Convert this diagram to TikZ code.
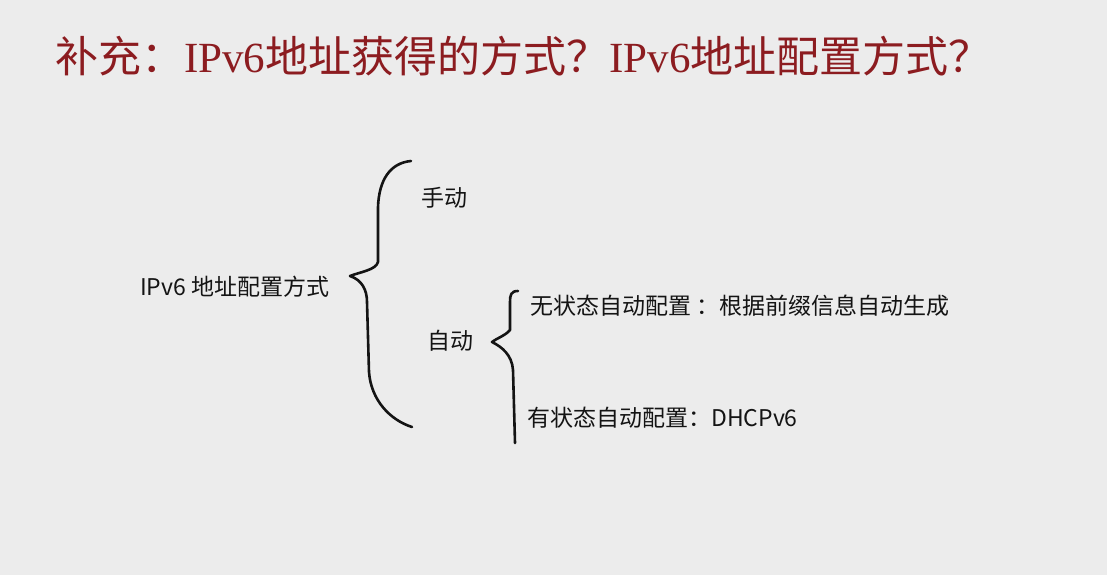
\documentclass[tikz,border=0pt]{standalone}
\usepackage{fontspec}
\newfontfamily\cjk{Noto Sans CJK SC}
\newfontfamily\lser{Liberation Serif}
\definecolor{titlered}{RGB}{140,28,32}
\definecolor{bgc}{RGB}{236,236,236}
\definecolor{ink}{RGB}{20,20,20}
\tikzset{
  titletext/.style={anchor=base west, inner sep=0pt, text=titlered, font=\fontsize{43}{43}\selectfont\cjk},
  bodytext/.style={inner sep=0pt, text=ink, font=\fontsize{23}{23}\selectfont\cjk},
  bracepath/.style={draw=ink, line width=2.6pt, line cap=round, line join=round}
}
\begin{document}
\begin{tikzpicture}[x=1pt,y=-1pt]
\fill[bgc] (0,0) rectangle (1107,575);
\useasboundingbox (0,0) rectangle (1107,575);

\node[titletext] (title) at (55,73) {补充：{\lser IPv6}地址获得的方式？{\lser IPv6}地址配置方式？};

\node[bodytext, anchor=west] (root) at (140,287) {IPv6 地址配置方式};
\node[bodytext] (manual) at (444,198) {手动};
\node[bodytext] (auto) at (450,341) {自动};
\node[bodytext, anchor=west] (slaac) at (530,306) {无状态自动配置 ：根据前缀信息自动生成};
\node[bodytext, anchor=west] (dhcp) at (527,418) {有状态自动配置：DHCPv6};

% big brace
\draw[bracepath] (411,161) .. controls (390,163) and (379,180) .. (378,207)
  -- (378,262) .. controls (376,270) and (360,272) .. (350,276)
  .. controls (362,280) and (367,290) .. (367,302)
  -- (369,372) .. controls (371,400) and (390,420) .. (412,427);

% small brace
\draw[bracepath] (518,291) .. controls (511,291) and (510,295) .. (510,302)
  -- (510,330) .. controls (505,336) and (497,338) .. (492,342)
  .. controls (502,347) and (512,355) .. (513,370)
  -- (515,443);
\end{tikzpicture}
\end{document}
